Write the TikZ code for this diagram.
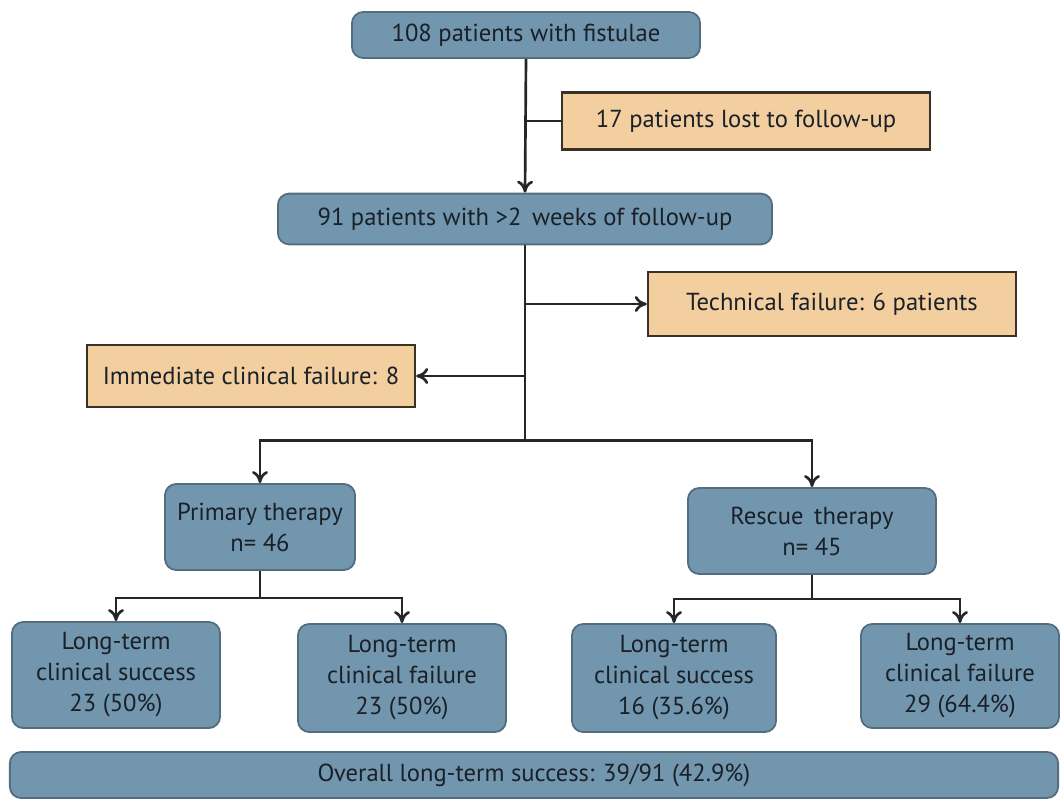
\documentclass[tikz,border=0pt]{standalone}
\usepackage{fontspec}
\setmainfont{PT Sans}
\usepackage{tikz}
\usetikzlibrary{positioning, arrows.meta, calc}

\definecolor{boxblue}{RGB}{114,150,174}
\definecolor{boxblueline}{RGB}{84,110,128}
\definecolor{boxtan}{RGB}{243,207,160}
\definecolor{boxtanline}{RGB}{58,48,38}
\definecolor{inktext}{RGB}{25,32,40}

\begin{document}
\begin{tikzpicture}[x=0.025cm, y=-0.025cm,
    every node/.style={font=\fontsize{17.5}{22}\selectfont, text=inktext, align=center},
    bluebox/.style={draw=boxblueline, fill=boxblue, rounded corners=8pt, line width=1.3pt, inner sep=2pt},
    tanbox/.style={draw=boxtanline, fill=boxtan, line width=1.6pt, inner sep=2pt},
    link/.style={line width=1.9pt, draw=black!85},
    >={To[length=3mm, width=4mm]}]
      \useasboundingbox (0,0) rectangle (1064,801);
      \node[bluebox, minimum width=8.7cm, minimum height=1.15cm] (all) at (526,35) {108 patients with fistulae};
      \node[tanbox, minimum width=9.2cm, minimum height=1.42cm] (lost) at (746,121) {17 patients lost to follow-up};
      \node[bluebox, minimum width=12.35cm, minimum height=1.27cm] (fu) at (525,219) {91 patients with >2\, weeks of follow-up};
      \node[tanbox, minimum width=9.2cm, minimum height=1.6cm] (tech) at (832,304) {Technical failure: 6 patients};
      \node[tanbox, minimum width=8.2cm, minimum height=1.55cm] (immed) at (251,376) {Immediate clinical failure: 8};
      \node[bluebox, minimum width=4.75cm, minimum height=2.15cm] (prim) at (260,527) {Primary therapy\\n= 46};
      \node[bluebox, minimum width=6.2cm, minimum height=2.15cm] (resc) at (812,531) {Rescue\, therapy\\n= 45};
      \node[bluebox, minimum width=5.2cm, minimum height=2.65cm] (ps) at (116,675) {Long-term\\clinical success\\23 (50\%)};
      \node[bluebox, minimum width=5.2cm, minimum height=2.7cm] (pf) at (402,678) {Long-term\\clinical failure\\23 (50\%)};
      \node[bluebox, minimum width=5.1cm, minimum height=2.7cm] (rs) at (674,678) {Long-term\\clinical success\\16 (35.6\%)};
      \node[bluebox, minimum width=4.95cm, minimum height=2.6cm] (rf) at (960,676) {Long-term\\clinical failure\\29 (64.4\%)};
      \node[bluebox, minimum width=26.2cm, minimum height=1.15cm] (overall) at (534,775) {Overall long-term success: 39/91 (42.9\%)};

      % junction points
      \coordinate (j1) at (all.south |- lost.west);
      \coordinate (j2) at (fu.south |- tech.west);
      \coordinate (j3) at (fu.south |- immed.east);
      \coordinate (j4) at ($(fu.south)+(0,195)$);
      \coordinate (j5) at ($(prim.south)+(0,27)$);
      \coordinate (j6) at ($(resc.south)+(0,24)$);

      \draw[link, ->] (all.south) -- (fu.north);
      \draw[link] (j1) -- (lost.west);
      \draw[link] (fu.south) -- (j4);
      \draw[link, ->] (j2) -- (tech.west);
      \draw[link, ->] (j3) -- (immed.east);
      \draw[link, ->] (j4) -| (prim.north);
      \draw[link, ->] (j4) -| (resc.north);
      \draw[link] (prim.south) -- (j5);
      \draw[link, ->] (j5) -| (ps.north);
      \draw[link, ->] (j5) -| (pf.north);
      \draw[link] (resc.south) -- (j6);
      \draw[link, ->] (j6) -| (rs.north);
      \draw[link, ->] (j6) -| (rf.north);
     \end{tikzpicture}
\end{document}
